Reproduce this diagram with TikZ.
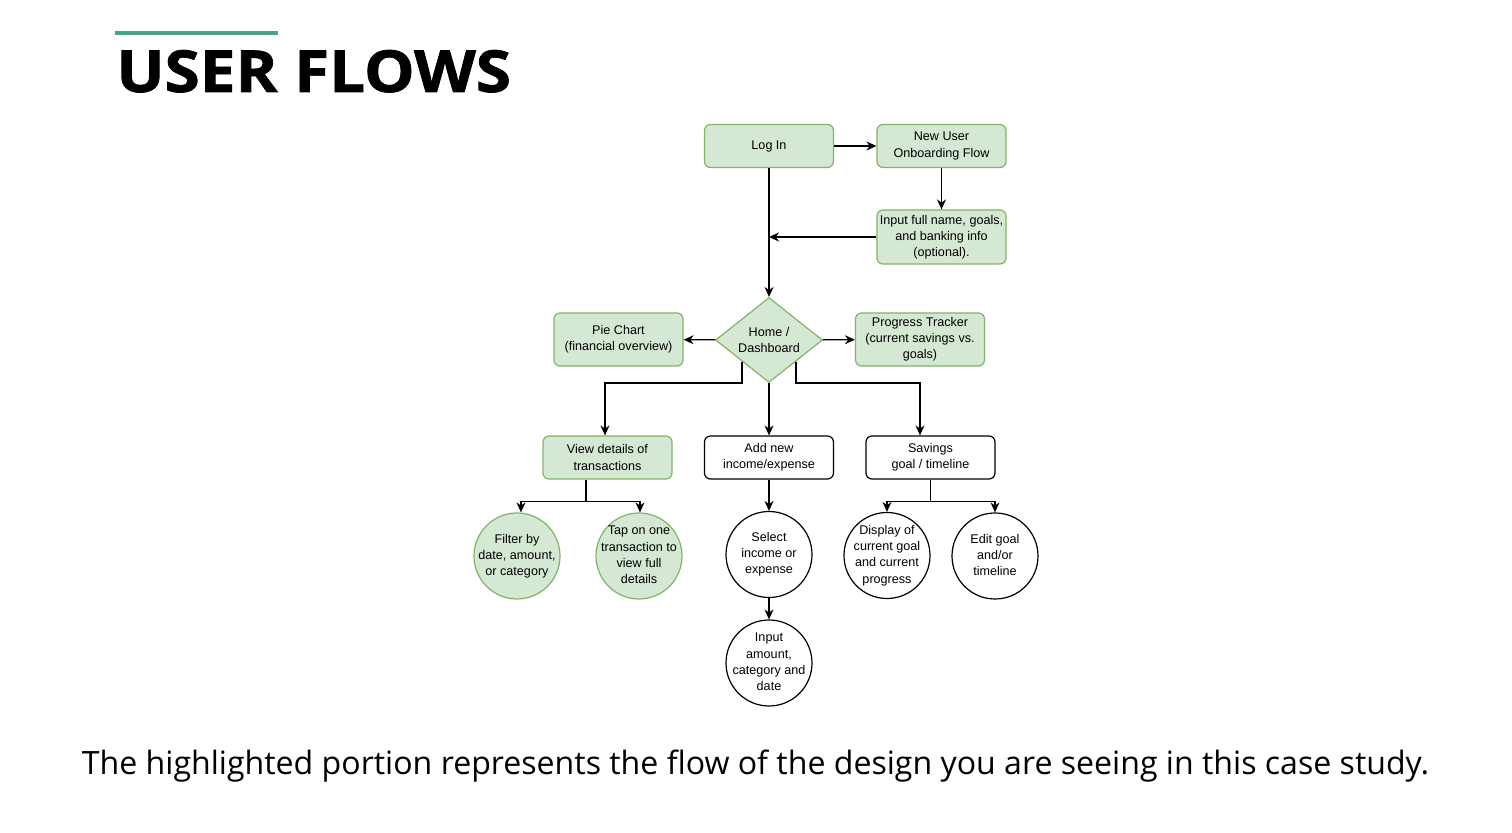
\documentclass[tikz,border=0pt]{standalone}
\usepackage{fontspec}
\usepackage{graphicx}
\setmainfont{Liberation Sans}
\newfontfamily\opensans{Open Sans}
\newfontfamily\opensanstitle[FakeBold=1.2]{Open Sans Bold}
\usetikzlibrary{shapes.geometric,arrows.meta,calc}
\definecolor{gfill}{HTML}{D5E8D4}
\definecolor{gstroke}{HTML}{82B366}
\definecolor{teal}{RGB}{68,168,132}
\newcommand{\dfont}{\fontsize{6.3}{8.1}\selectfont}
\newcommand{\ctext}[1]{\makebox[0pt]{\begin{tabular}{@{}c@{}}#1\end{tabular}}}
\tikzset{
  base/.style={align=center, font=\dfont, line width=0.6pt, inner sep=1pt},
  gbox/.style={base, draw=gstroke, fill=gfill, rounded corners=3pt, minimum width=64.5pt, minimum height=21.5pt},
  wbox/.style={base, draw=black, fill=white, rounded corners=3pt, minimum width=64.5pt, minimum height=21.5pt},
  gcirc/.style={base, circle, draw=gstroke, fill=gfill, minimum size=43pt, inner sep=0pt},
  wcirc/.style={base, circle, draw=black, fill=white, minimum size=43pt, inner sep=0pt},
  arr/.style={line width=0.6pt, -{Stealth[length=5pt,width=4.5pt]}},
  ln/.style={line width=0.6pt}
}
\begin{document}
\begin{tikzpicture}[x=0.5pt,y=-0.5pt]
\useasboundingbox (0,0) rectangle (1512,833);
% title
\draw[teal, line width=1.6pt] (115,33) -- (278,33);
\node[anchor=base west, inner sep=0pt, font=\opensanstitle\fontsize{29}{34}\selectfont] (title) at (116,92) {\scalebox{1.1}[1]{USER FLOWS}};
% nodes
\node[gbox] (login) at (769,146) {Log In};
\node[gbox] (onb) at (941.5,146) {New User\\Onboarding Flow};
\node[gbox, minimum height=27pt] (input) at (941.5,237) {Input full name, goals,\\and banking info\\(optional).};
\node[base, diamond, draw=gstroke, fill=gfill, inner sep=0pt, shape aspect=1.26, minimum width=53.5pt, minimum height=42.5pt] (home) at (769,340) {Home /\\Dashboard};
\node[gbox, minimum height=26.5pt] (pie) at (618.5,339.5) {Pie Chart\\(financial overview)};
\node[gbox, minimum height=26.5pt] (prog) at (920,339.5) {Progress Tracker\\(current savings vs.\\goals)};
\node[gbox] (view) at (607.5,457.5) {View details of\\transactions};
\node[wbox] (add) at (769,457.5) {Add new\\income/expense};
\node[wbox] (sav) at (930.5,457.5) {Savings\\goal / timeline};
\node[gcirc] (filter) at (517,556) {\ctext{Filter by\\date, amount,\\or category}};
\node[gcirc] (tap) at (639,556) {\ctext{Tap on one\\transaction to\\view full\\details}};
\node[wcirc] (sel) at (769,554.5) {\ctext{Select\\income or\\expense}};
\node[wcirc] (inamt) at (769,663) {\ctext{Input\\amount,\\category and\\date}};
\node[wcirc] (disp) at (887,555.5) {\ctext{Display of\\current goal\\and current\\progress}};
\node[wcirc] (edit) at (995,556) {\ctext{Edit goal\\and/or\\timeline}};
% bottom text
\node[anchor=base, inner sep=0pt, font=\opensans\fontsize{16.05}{19}\selectfont] (caption) at (755.5,775) {The highlighted portion represents the flow of the design you are seeing in this case study.};
% connectors
\draw[arr] (login) -- (onb);
\draw[arr] (onb) -- (input);
\draw[arr] (login) -- (home);
\draw[arr] (input.west) -- (input.west -| login);
\draw[arr] (home) -- (pie);
\draw[arr] (home) -- (prog);
\coordinate (hl) at ($(home.west)!0.5!(home.south)$);
\coordinate (hr) at ($(home.east)!0.5!(home.south)$);
\draw[arr] (hl) -- (hl |- home.south) -| ([xshift=-1.25pt]view.north);
\draw[arr] (home.south) -- (add.north);
\draw[arr] (hr) -- (hr |- home.south) -| ([xshift=-5.25pt]sav.north);
\coordinate (vb) at ([xshift=-10.75pt]view.south);
\coordinate (vj) at ([yshift=-11pt]vb);
\draw[ln] (vb) -- (vj);
\draw[arr] (vj) -| ([xshift=2pt]filter.north);
\draw[arr] (vj) -| ([xshift=0.5pt]tap.north);
\draw[arr] (add) -- (sel);
\draw[arr] (sel) -- (inamt);
\coordinate (sj) at ([yshift=-11pt]sav.south);
\draw[ln] (sav.south) -- (sj);
\draw[arr] (sj) -| (disp.north);
\draw[arr] (sj) -| (edit.north);
\end{tikzpicture}
\end{document}
